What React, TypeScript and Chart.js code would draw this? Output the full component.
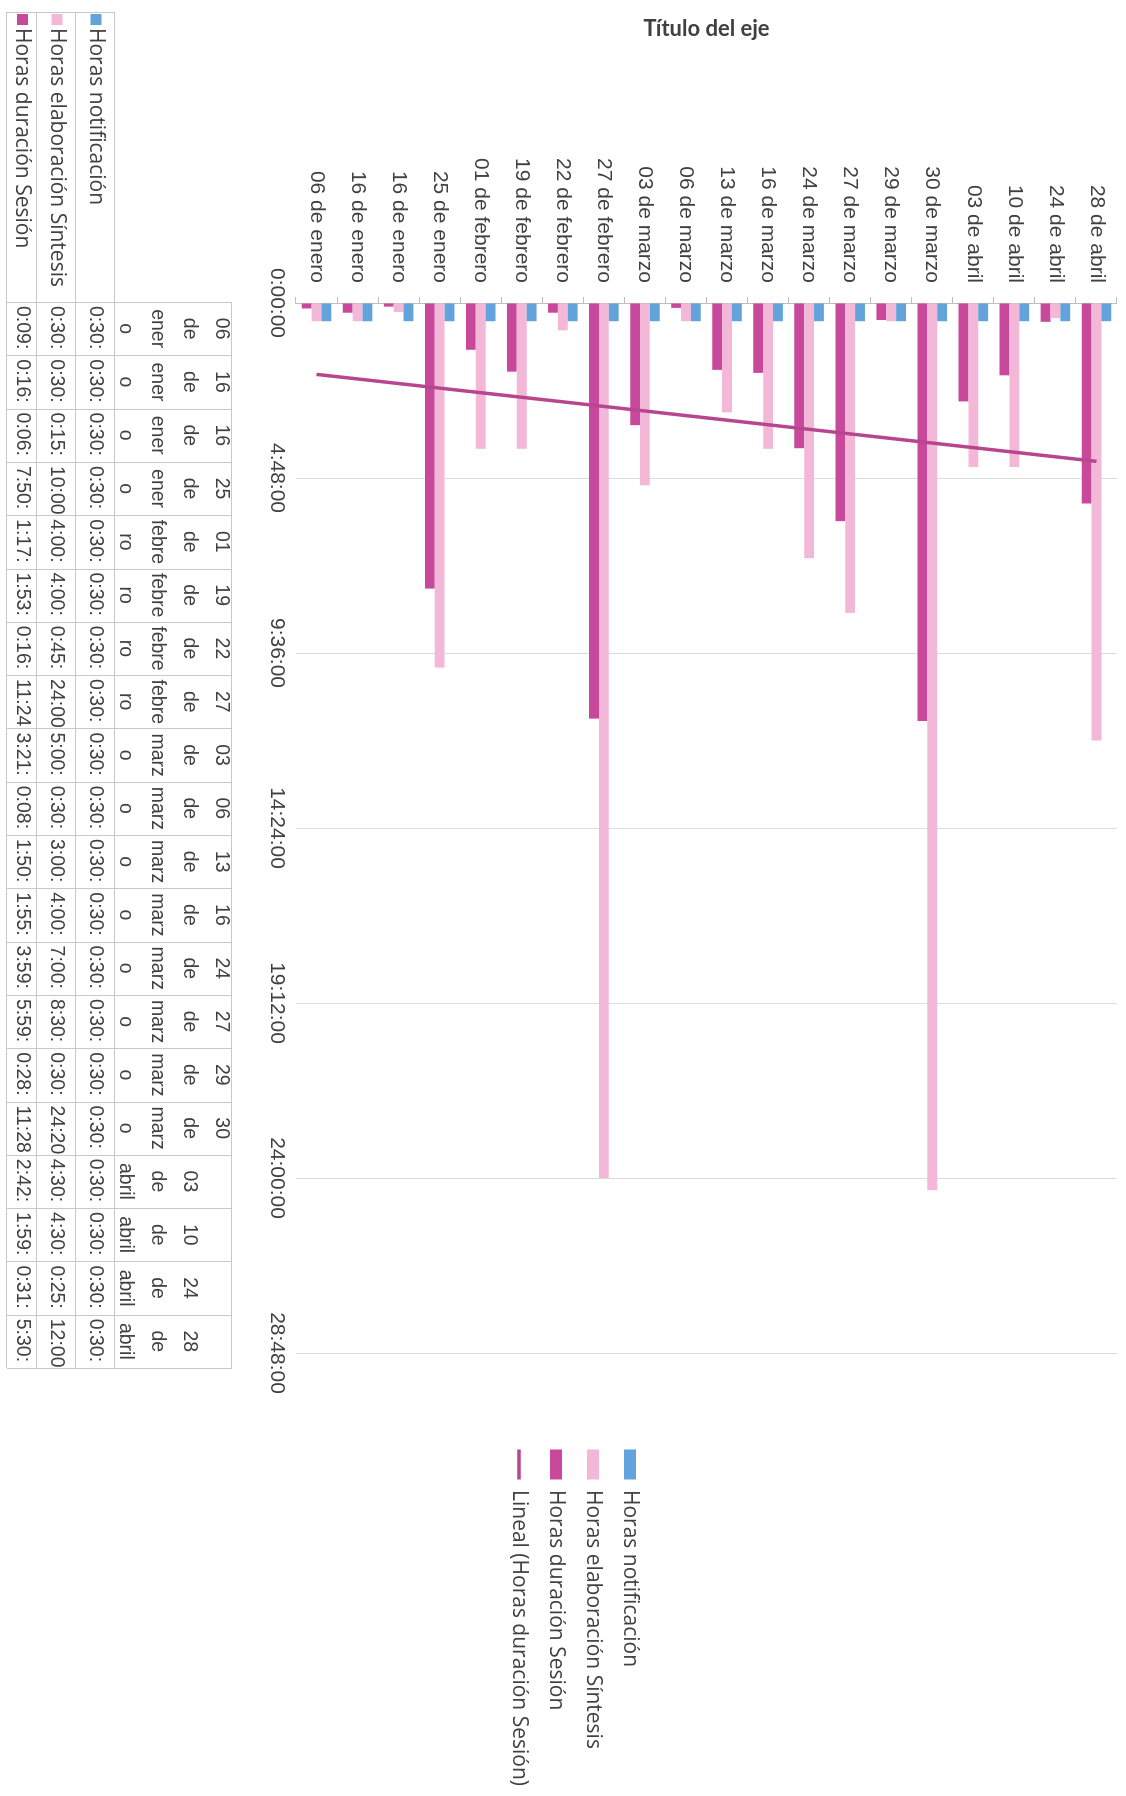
import React, { useEffect, useRef } from "react";
import { Chart, registerables } from "chart.js";

Chart.register(...registerables);

// ---------- data ----------
const categories = [
  "06 de enero", "16 de enero", "16 de enero", "25 de enero", "01 de febrero",
  "19 de febrero", "22 de febrero", "27 de febrero", "03 de marzo", "06 de marzo",
  "13 de marzo", "16 de marzo", "24 de marzo", "27 de marzo", "29 de marzo",
  "30 de marzo", "03 de abril", "10 de abril", "24 de abril", "28 de abril",
];
const horasNotificacion = [
  "0:30", "0:30", "0:30", "0:30", "0:30", "0:30", "0:30", "0:30", "0:30", "0:30",
  "0:30", "0:30", "0:30", "0:30", "0:30", "0:30", "0:30", "0:30", "0:30", "0:30",
];
const horasSintesis = [
  "0:30", "0:30", "0:15", "10:00", "4:00", "4:00", "0:45", "24:00", "5:00", "0:30",
  "3:00", "4:00", "7:00", "8:30", "0:30", "24:20", "4:30", "4:30", "0:25", "12:00",
];
const horasSesion = [
  "0:09", "0:16", "0:06", "7:50", "1:17", "1:53", "0:16", "11:24", "3:21", "0:08",
  "1:50", "1:55", "3:59", "5:59", "0:28", "11:28", "2:42", "1:59", "0:31", "5:30",
];
const seriesNames = ["Horas notificación", "Horas elaboración Síntesis", "Horas duración Sesión"];
const trendName = "Lineal (Horas duración Sesión)";
const valueTicks = [0, 4.8, 9.6, 14.4, 19.2, 24, 28.8]; // hours
const axisTitle = "Título del eje";

// ---------- styles ----------
const COLORS = {
  notif: "#62a3db",
  sint: "#f3b8d8",
  sesion: "#c8489c",
  trend: "#b8468f",
  text: "#404040",
  grid: "#dcdcdc",
  axis: "#bfbfbf",
  table: "#c8c8c8",
};
const W = 1796;
const H = 1126;
const PLOT_RIGHT = 1353;
const LEGEND_FONT = 21;
const LEGEND_PAD = 16;
const LEGEND_BOX = 30;
const TABLE = {
  top: 894,
  headerBottom: 1011,
  rowBottoms: [1050, 1089, 1119],
  left: 12,
  colStart: 302,
  colEnd: 1368,
  headerLine: 32,
};

const toHours = (s: string) => {
  const [h, m] = s.split(":").map(Number);
  return h + m / 60;
};
const pad2 = (n: number) => (n < 10 ? "0" + n : "" + n);
const fmtHMS = (hours: number) => {
  const total = Math.round(hours * 3600);
  const h = Math.floor(total / 3600);
  const m = Math.floor((total % 3600) / 60);
  const s = total % 60;
  return `${h}:${pad2(m)}:${pad2(s)}`;
};

const notifH = horasNotificacion.map(toHours);
const sintH = horasSintesis.map(toHours);
const sesionH = horasSesion.map(toHours);

// linear trend line (least squares) of "Horas duración Sesión"
const trendH = (() => {
  const n = sesionH.length;
  const xs = sesionH.map((_, i) => i + 1);
  const mx = xs.reduce((a, b) => a + b, 0) / n;
  const my = sesionH.reduce((a, b) => a + b, 0) / n;
  let sxy = 0;
  let sxx = 0;
  xs.forEach((x, i) => {
    sxy += (x - mx) * (sesionH[i] - my);
    sxx += (x - mx) * (x - mx);
  });
  const slope = sxy / sxx;
  const icpt = my - slope * mx;
  return xs.map((x) => icpt + slope * x);
})();

function wrapText(ctx: CanvasRenderingContext2D, text: string, maxW: number) {
  const words = text.split(" ");
  const lines: string[] = [];
  let cur = "";
  for (const w of words) {
    const cand = cur ? cur + " " + w : w;
    if (ctx.measureText(cand).width <= maxW) {
      cur = cand;
      continue;
    }
    if (cur) {
      lines.push(cur);
      cur = "";
    }
    let word = w;
    while (ctx.measureText(word).width > maxW && word.length > 1) {
      let k = word.length;
      while (k > 1 && ctx.measureText(word.slice(0, k)).width > maxW) k--;
      lines.push(word.slice(0, k));
      word = word.slice(k);
    }
    cur = word;
  }
  if (cur) lines.push(cur);
  return lines;
}

function fitPrefix(ctx: CanvasRenderingContext2D, text: string, maxW: number) {
  let k = text.length;
  while (k > 0 && ctx.measureText(text.slice(0, k)).width > maxW) k--;
  return text.slice(0, k);
}

const tablePlugin = {
  id: "dataTable",
  afterDraw(chart: any) {
    const ctx: CanvasRenderingContext2D = chart.ctx;
    const n = categories.length;
    const cw = (TABLE.colEnd - TABLE.colStart) / n;
    const bottom = TABLE.rowBottoms[TABLE.rowBottoms.length - 1];
    ctx.save();
    ctx.strokeStyle = COLORS.table;
    ctx.lineWidth = 1;
    ctx.beginPath();
    const hl = (x0: number, x1: number, y: number) => {
      ctx.moveTo(x0, Math.round(y) + 0.5);
      ctx.lineTo(x1, Math.round(y) + 0.5);
    };
    const vl = (x: number, y0: number, y1: number) => {
      ctx.moveTo(Math.round(x) + 0.5, y0);
      ctx.lineTo(Math.round(x) + 0.5, y1);
    };
    hl(TABLE.colStart, TABLE.colEnd, TABLE.top);
    [TABLE.headerBottom, ...TABLE.rowBottoms].forEach((y) => hl(TABLE.left, TABLE.colEnd, y));
    vl(TABLE.left, TABLE.headerBottom, bottom);
    for (let i = 0; i <= n; i++) vl(TABLE.colStart + i * cw, TABLE.top, bottom);
    ctx.stroke();

    // header (category names, wrapped, bottom aligned)
    ctx.font = '19.5px "Liberation Sans"';
    ctx.fillStyle = COLORS.text;
    ctx.textAlign = "center";
    ctx.textBaseline = "middle";
    categories.forEach((c, i) => {
      const lines = wrapText(ctx, c, cw - 6);
      const cx = TABLE.colStart + (i + 0.5) * cw;
      lines.forEach((ln, j) => {
        ctx.fillText(ln, cx, TABLE.headerBottom - 10 - (lines.length - 1 - j) * TABLE.headerLine);
      });
    });

    const rows = [
      { label: seriesNames[0], color: COLORS.notif, values: notifH },
      { label: seriesNames[1], color: COLORS.sint, values: sintH },
      { label: seriesNames[2], color: COLORS.sesion, values: sesionH },
    ];
    rows.forEach((row, r) => {
      const y0 = r === 0 ? TABLE.headerBottom : TABLE.rowBottoms[r - 1];
      const y1 = TABLE.rowBottoms[r];
      const cy = (y0 + y1) / 2;
      ctx.fillStyle = row.color;
      ctx.fillRect(TABLE.left + 2, cy - 6, 11, 11);
      ctx.fillStyle = COLORS.text;
      ctx.textAlign = "left";
      ctx.font = '21px "Open Sans"';
      ctx.fillText(row.label, TABLE.left + 16, cy);
      ctx.font = '19.5px "Liberation Sans"';
      row.values.forEach((v, i) => {
        const txt = fitPrefix(ctx, fmtHMS(v), cw - 4);
        ctx.fillText(txt, TABLE.colStart + i * cw + 4, cy);
      });
    });
    ctx.restore();
  },
};

export default function App() {
  const ref = useRef<HTMLCanvasElement>(null);

  useEffect(() => {
    const canvas = ref.current as HTMLCanvasElement;
    const mctx = canvas.getContext("2d") as CanvasRenderingContext2D;
    mctx.font = `${LEGEND_FONT}px Open Sans`;
    const textW = Math.max(...[...seriesNames, trendName].map((t) => mctx.measureText(t).width));
    const legendW = LEGEND_PAD + LEGEND_BOX + LEGEND_FONT / 2 + textW + 10;
    const dummyW = Math.max(0, W - legendW - PLOT_RIGHT);

    const barCommon = {
      xAxisID: "x",
      yAxisID: "y",
      categoryPercentage: 0.72,
      barPercentage: 1,
      borderWidth: 0,
      pointStyle: "rect",
      order: 1,
    };

    const chart = new Chart(canvas, {
      type: "bar",
      data: {
        labels: categories,
        datasets: [
          { ...barCommon, label: seriesNames[0], data: notifH, backgroundColor: COLORS.notif },
          { ...barCommon, label: seriesNames[1], data: sintH, backgroundColor: COLORS.sint },
          { ...barCommon, label: seriesNames[2], data: sesionH, backgroundColor: COLORS.sesion },
          {
            type: "line",
            label: trendName,
            data: trendH,
            indexAxis: "y",
            xAxisID: "x",
            yAxisID: "y",
            borderColor: COLORS.trend,
            backgroundColor: COLORS.trend,
            borderWidth: 3.5,
            pointRadius: 0,
            pointStyle: "line",
            fill: false,
            order: 0,
          } as any,
        ],
      },
      options: {
        indexAxis: "y",
        animation: false,
        responsive: false,
        devicePixelRatio: 1,
        events: [],
        layout: { padding: { top: 9, left: 0, right: 0, bottom: 32 } },
        scales: {
          x: {
            type: "linear",
            position: "bottom",
            min: 0,
            max: 28.8,
            afterBuildTicks: (s: any) => {
              s.ticks = valueTicks.map((v) => ({ value: v }));
            },
            ticks: {
              callback: (v: any) => fmtHMS(Number(v)),
              font: { family: "Liberation Sans", size: 21 },
              color: COLORS.text,
              padding: 7,
              maxRotation: 0,
              autoSkip: false,
            },
            grid: { color: COLORS.grid, drawTicks: false, lineWidth: 1 },
            border: { display: false },
            afterFit: (s: any) => {
              s.height = 264;
            },
          },
          y: {
            type: "category",
            position: "left",
            reverse: true,
            offset: true,
            grid: {
              offset: true,
              drawOnChartArea: false,
              drawTicks: true,
              tickLength: 6,
              color: COLORS.axis,
            },
            border: { display: true, color: COLORS.axis },
            ticks: {
              autoSkip: false,
              font: { family: "Liberation Sans", size: 21 },
              color: COLORS.text,
              padding: 14,
            },
            title: {
              display: true,
              text: axisTitle,
              font: { family: "Lato", size: 22, weight: "bold" },
              color: COLORS.text,
              padding: { top: 16, bottom: 0 },
            },
            afterFit: (s: any) => {
              s.width = 303;
              s.paddingTop = 0;
              s.paddingBottom = 0;
            },
          },
          yDummy: {
            type: "linear",
            position: "right",
            min: 0,
            max: 1,
            display: true,
            grid: { display: false, drawTicks: false },
            border: { display: false },
            ticks: { display: false },
            afterFit: (s: any) => {
              s.width = dummyW;
              s.paddingTop = 0;
              s.paddingBottom = 0;
            },
          },
        } as any,
        plugins: {
          legend: {
            position: "right",
            align: "center",
            maxWidth: 1000,
            labels: {
              usePointStyle: true,
              pointStyleWidth: LEGEND_BOX,
              boxHeight: 12,
              padding: LEGEND_PAD,
              color: COLORS.text,
              font: { family: "Open Sans", size: LEGEND_FONT },
              sort: (a: any, b: any) => a.datasetIndex - b.datasetIndex,
            },
          },
          tooltip: { enabled: false },
          title: { display: false },
        },
      } as any,
      plugins: [tablePlugin],
    });
    return () => chart.destroy();
  }, []);

  return (
    <div
      style={{
        position: "absolute",
        left: 0,
        top: 0,
        width: 1126,
        height: 1796,
        overflow: "hidden",
        background: "#ffffff",
      }}
    >
      <canvas
        ref={ref}
        width={W}
        height={H}
        style={{
          position: "absolute",
          left: 0,
          top: 0,
          width: W,
          height: H,
          transformOrigin: "0 0",
          transform: "translate(1126px, 0px) rotate(90deg)",
        }}
      />
    </div>
  );
}
